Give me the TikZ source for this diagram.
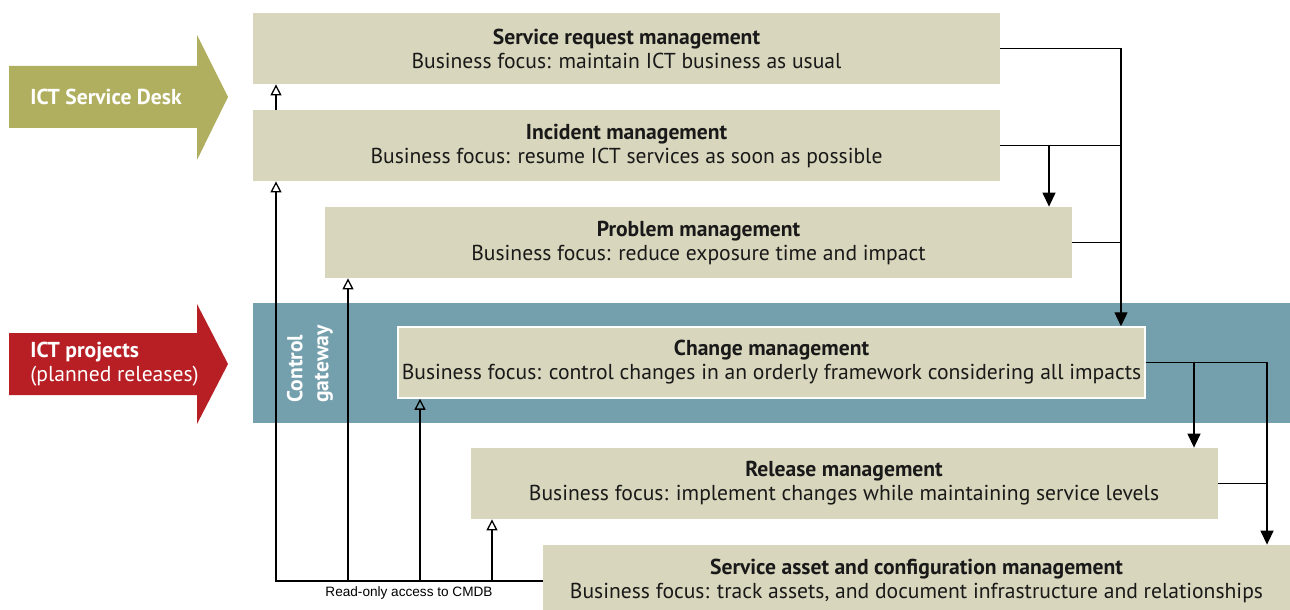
\documentclass[tikz,border=0pt]{standalone}
\usepackage{fontspec}
\setmainfont{PT Sans}
\newfontfamily\arialfont{Liberation Sans}
\usetikzlibrary{arrows.meta}
\definecolor{boxfill}{HTML}{D8D6BC}
\definecolor{gatecol}{HTML}{749FAD}
\definecolor{deskcol}{HTML}{B0AF60}
\definecolor{projcol}{HTML}{B81F25}
\tikzset{
  procbox/.style={fill=boxfill, minimum width=373.5pt, minimum height=35.5pt,
    inner sep=0pt, align=center, text=black!90, font=\fontsize{10.8}{12}\selectfont},
  arrowlabel/.style={anchor=west, align=left, text=white, inner sep=0pt,
    font=\fontsize{10.8}{12}\selectfont},
  gatelabel/.style={rotate=90, anchor=west, align=left, text=white, inner sep=0pt,
    font=\fontsize{10.8}{13}\selectfont\bfseries},
  link/.style={line width=0.65pt},
  flow/.style={line width=0.65pt, -{Triangle[length=7pt,width=6.5pt]}},
  readonly/.style={line width=0.65pt, -{Triangle[open,length=5.5pt,width=5.5pt]}},
}
\begin{document}
\begin{tikzpicture}[x=0.5pt,y=-0.5pt]
  \useasboundingbox (0,0) rectangle (1290,610);
  % big arrows on the left
  \fill[deskcol] (9,66) -- (197,66) -- (197,35) -- (228,97) -- (197,160) -- (197,128) -- (9,128) -- cycle;
  \node[arrowlabel, font=\fontsize{10.8}{12}\selectfont\bfseries] (desk) at (30,97) {ICT Service Desk};
  \fill[projcol] (9,333) -- (197,333) -- (197,304) -- (228,364) -- (197,424) -- (197,395) -- (9,395) -- cycle;
  \node[arrowlabel] (proj) at (30,364) {\textbf{ICT projects}\\(planned releases)};
  % control gateway band
  \fill[gatecol] (253,303) rectangle (1290,423);
  \node[gatelabel] (gate) at (310,403) {Control\\gateway};
  % processes
  \node[procbox] (srm) at (626.5,48.5) {\textbf{Service request management}\\Business focus: maintain ICT business as usual};
  \node[procbox] (inc) at (626.5,145.5) {\textbf{Incident management}\\Business focus: resume ICT services as soon as possible};
  \node[procbox] (prb) at (698.5,242.5) {\textbf{Problem management}\\Business focus: reduce exposure time and impact};
  \node[procbox, draw=white, line width=0.75pt] (chg) at (771.5,362.5) {\textbf{Change management}\\Business focus: control changes in an orderly framework considering all impacts};
  \node[procbox] (rel) at (844,483.5) {\textbf{Release management}\\Business focus: implement changes while maintaining service levels};
  \node[procbox] (sac) at (916.5,580.5) {\textbf{Service asset and configuration management}\\Business focus: track assets, and document infrastructure and relationships};
  % bus lines on the right
  \coordinate (busA) at (1121,0);
  \coordinate (busB) at (1267,0);
  \coordinate (brA) at (1049,0);
  \coordinate (brB) at (1194,0);
  \draw[flow] (srm.east) -| (busA |- chg.north);
  \draw[link] (inc.east) -- (busA |- inc.east);
  \draw[flow] (brA |- inc.east) -- (brA |- prb.north);
  \draw[link] (prb.east) -- (busA |- prb.east);
  \draw[flow] (chg.east) -| (busB |- sac.north);
  \draw[flow] (brB |- chg.east) -- (brB |- rel.north);
  \draw[link] (rel.east) -- (busB |- rel.east);
  % read-only access on the left
  \coordinate (cmdb) at (276,581);
  \coordinate (roB) at (348,581);
  \coordinate (roC) at (420,581);
  \coordinate (roD) at (492,581);
  \draw[readonly] (sac.west |- cmdb) -- (cmdb) -- (cmdb |- inc.south);
  \draw[readonly] (cmdb |- inc.north) -- (cmdb |- srm.south);
  \draw[readonly] (roB) -- (roB |- prb.south);
  \draw[readonly] (roC) -- (roC |- chg.south);
  \draw[readonly] (roD) -- (roD |- rel.south);
  \node[font=\arialfont\fontsize{6.8}{8}\selectfont, inner sep=0pt] (cmdbtext) at (409,593) {Read-only access to CMDB};
\end{tikzpicture}
\end{document}
